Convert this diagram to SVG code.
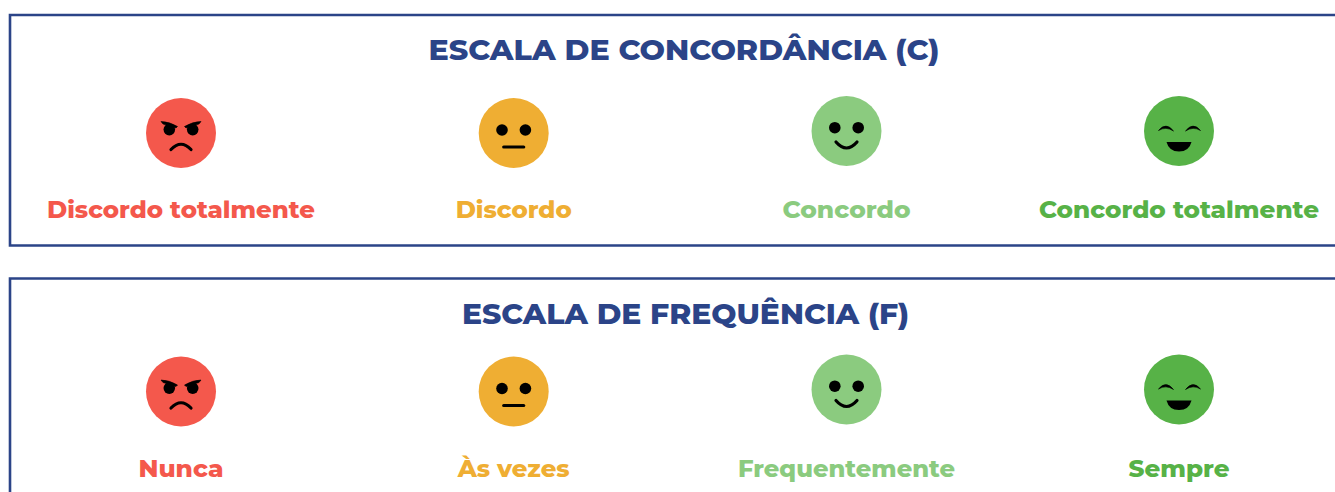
<svg xmlns="http://www.w3.org/2000/svg" width="1335" height="492" viewBox="0 0 1335 492">
<style>
text{font-family:"Montserrat","Inter","Liberation Sans",sans-serif;text-anchor:middle}
.t{font-size:28px;font-weight:800;fill:#2b4488}
.l{font-size:24px;font-weight:800}
.frame{fill:none;stroke:#2b4488;stroke-width:2.6}
.k{fill:#000}
.s{fill:none;stroke:#000;stroke-width:3.2;stroke-linecap:round}
.c{fill:#000;stroke:#000;stroke-width:.6;stroke-linejoin:round}
.red{fill:#f4584c}.ora{fill:#efae33}.lig{fill:#8bcb7f}.dar{fill:#57b247}
</style>
<defs>
<g id="angry"><circle class="red" r="35"/><circle class="k" cx="-11.700" cy="-3.400" r="5.800"/><circle class="k" cx="11.700" cy="-3.400" r="5.800"/><path class="c" d="M-20 -11.500Q-12 -11.500 -3.500 -6.500L-5 -5Q-13 -7.500 -18 -9Z"/><path class="c" d="M20 -11.500Q12 -11.500 3.500 -6.500L5 -5Q13 -7.500 18 -9Z"/><path class="s" d="M-10 16.500Q0 6 10 16.500"/></g>
<g id="neutral"><circle class="ora" r="35"/><circle class="k" cx="-11.700" cy="-3" r="5.800"/><circle class="k" cx="11.700" cy="-3" r="5.800"/><path class="s" d="M-10 14H10"/></g>
<g id="smile"><circle class="lig" r="35"/><circle class="k" cx="-11.700" cy="-3.300" r="5.800"/><circle class="k" cx="11.700" cy="-3.300" r="5.800"/><path class="s" d="M-10.500 11Q0 23 10.500 11"/></g>
<g id="grin"><circle class="dar" r="35"/><path class="c" d="M-20.500 -0.500Q-13 -9.500 -5.500 0Q-13 -5 -20.500 -0.500Z"/><path class="c" d="M6.500 0Q14 -9.500 21.500 -0.500Q14 -5 6.500 0Z"/><path class="k" d="M-12.500 11H12.500Q10 20.500 0 20.500Q-10 20.500 -12.500 11Z"/></g>
</defs>
<g id="escala-concordancia">
<path class="frame" d="M1337 15H10V245.500H1337"/>
<text class="t" x="684" y="60" textLength="511" lengthAdjust="spacingAndGlyphs">ESCALA DE CONCORDÂNCIA (C)</text>
</g>
<g id="discordo-totalmente"><use href="#angry" x="181" y="133"/><text class="l" x="181" y="218" style="fill:#f4584c" textLength="268" lengthAdjust="spacingAndGlyphs">Discordo totalmente</text></g>
<g id="discordo"><use href="#neutral" x="513.700" y="133"/><text class="l" x="513.700" y="218" style="fill:#efae33" textLength="116" lengthAdjust="spacingAndGlyphs">Discordo</text></g>
<g id="concordo"><use href="#smile" x="846.500" y="131"/><text class="l" x="846.500" y="218" style="fill:#8bcb7f" textLength="128" lengthAdjust="spacingAndGlyphs">Concordo</text></g>
<g id="concordo-totalmente"><use href="#grin" x="1179" y="131"/><text class="l" x="1179" y="218" style="fill:#57b247" textLength="280" lengthAdjust="spacingAndGlyphs">Concordo totalmente</text></g>
<g id="escala-frequencia">
<path class="frame" d="M1337 278.500H10V494"/>
<text class="t" x="685.500" y="324" textLength="447" lengthAdjust="spacingAndGlyphs">ESCALA DE FREQUÊNCIA (F)</text>
</g>
<g id="nunca"><use href="#angry" x="181" y="391.500"/><text class="l" x="181" y="477" style="fill:#f4584c" textLength="85" lengthAdjust="spacingAndGlyphs">Nunca</text></g>
<g id="as-vezes"><use href="#neutral" x="513.700" y="391.500"/><text class="l" x="513.700" y="477" style="fill:#efae33" textLength="112" lengthAdjust="spacingAndGlyphs">Às vezes</text></g>
<g id="frequentemente"><use href="#smile" x="846.500" y="389.500"/><text class="l" x="846.500" y="477" style="fill:#8bcb7f" textLength="217" lengthAdjust="spacingAndGlyphs">Frequentemente</text></g>
<g id="sempre"><use href="#grin" x="1179" y="389.500"/><text class="l" x="1179" y="477" style="fill:#57b247" textLength="101" lengthAdjust="spacingAndGlyphs">Sempre</text></g>
</svg>
